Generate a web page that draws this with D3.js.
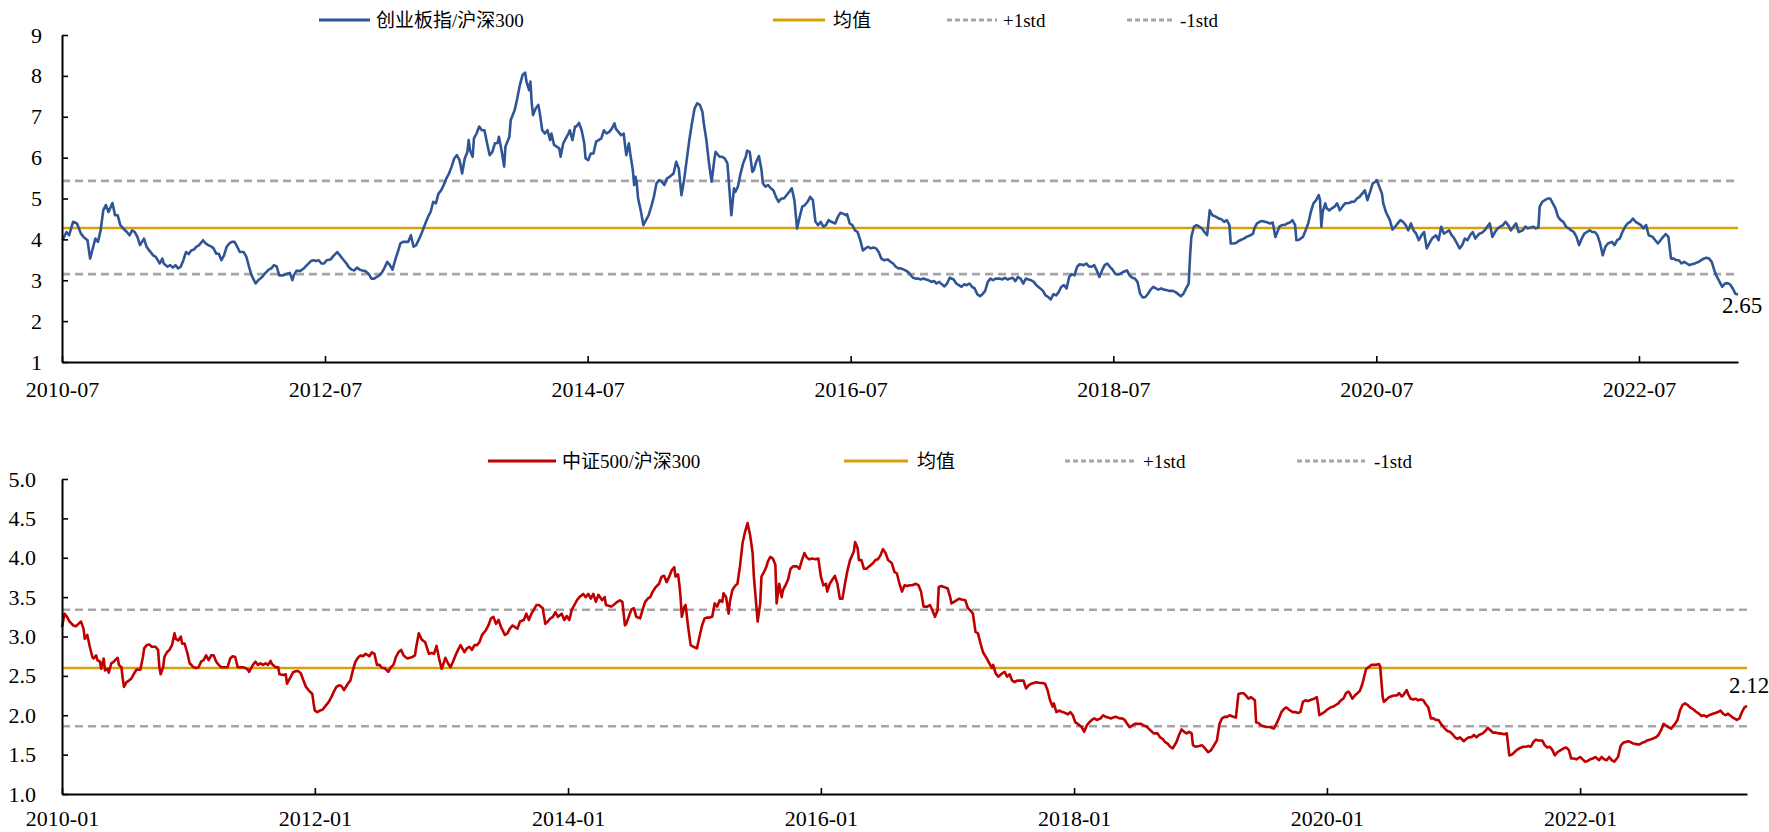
<!DOCTYPE html>
<html>
<head>
<meta charset="utf-8">
<script src="https://cdn.jsdelivr.net/npm/d3@7"></script>
<style>
  html, body { margin: 0; padding: 0; background: #fff; }
  svg text { font-family: "Liberation Serif", "Times New Roman", "Noto Sans CJK SC", serif; fill: #000; }
</style>
</head>
<body>
<svg id="chart" width="1769" height="832"></svg>
<script>
// 创业板指/沪深300, weekly-ish readings [decimal year, ratio]
const cybRatio = [
  [2010.50,3.98],[2010.53,4.18],[2010.55,4.10],[2010.58,4.43],[2010.61,4.39],[2010.64,4.14],[2010.66,4.06],[2010.69,3.98],
  [2010.71,3.53],[2010.74,3.90],[2010.75,4.02],[2010.77,3.94],[2010.79,4.22],[2010.81,4.71],[2010.83,4.84],[2010.85,4.67],
  [2010.88,4.89],[2010.90,4.59],[2010.92,4.59],[2010.94,4.35],[2010.97,4.24],[2010.99,4.18],[2011.01,4.10],[2011.03,4.22],
  [2011.05,4.18],[2011.07,4.06],[2011.09,3.86],[2011.12,4.02],[2011.14,3.82],[2011.16,3.73],[2011.19,3.61],[2011.21,3.57],
  [2011.24,3.41],[2011.26,3.53],[2011.27,3.41],[2011.30,3.33],[2011.32,3.37],[2011.34,3.31],[2011.36,3.37],[2011.38,3.29],
  [2011.40,3.33],[2011.42,3.49],[2011.44,3.69],[2011.46,3.64],[2011.48,3.73],[2011.50,3.75],[2011.52,3.82],[2011.54,3.86],
  [2011.57,3.98],[2011.59,3.90],[2011.61,3.86],[2011.63,3.83],[2011.65,3.78],[2011.67,3.65],[2011.69,3.65],[2011.71,3.49],
  [2011.73,3.61],[2011.75,3.82],[2011.77,3.90],[2011.79,3.94],[2011.81,3.94],[2011.83,3.82],[2011.85,3.69],[2011.88,3.69],
  [2011.90,3.57],[2011.92,3.33],[2011.94,3.12],[2011.97,2.92],[2011.99,3.00],[2012.02,3.08],[2012.04,3.16],[2012.07,3.26],
  [2012.09,3.29],[2012.11,3.37],[2012.13,3.34],[2012.15,3.12],[2012.18,3.12],[2012.21,3.16],[2012.23,3.18],[2012.25,3.00],
  [2012.26,3.12],[2012.28,3.23],[2012.31,3.23],[2012.34,3.30],[2012.36,3.37],[2012.39,3.47],[2012.41,3.49],[2012.43,3.47],
  [2012.45,3.49],[2012.47,3.41],[2012.49,3.41],[2012.51,3.49],[2012.54,3.51],[2012.56,3.59],[2012.59,3.69],[2012.62,3.57],
  [2012.64,3.49],[2012.66,3.41],[2012.68,3.31],[2012.70,3.26],[2012.72,3.24],[2012.74,3.31],[2012.76,3.26],[2012.78,3.24],
  [2012.80,3.23],[2012.83,3.15],[2012.85,3.04],[2012.87,3.04],[2012.89,3.08],[2012.91,3.12],[2012.93,3.19],[2012.95,3.31],
  [2012.97,3.45],[2012.99,3.37],[2013.01,3.26],[2013.03,3.49],[2013.05,3.69],[2013.07,3.90],[2013.09,3.94],[2013.13,3.94],
  [2013.15,4.10],[2013.17,3.82],[2013.19,3.86],[2013.22,4.06],[2013.24,4.22],[2013.26,4.39],[2013.28,4.55],[2013.30,4.67],
  [2013.32,4.92],[2013.34,4.88],[2013.36,5.12],[2013.38,5.20],[2013.40,5.33],[2013.42,5.49],[2013.44,5.61],[2013.46,5.78],
  [2013.48,5.98],[2013.50,6.06],[2013.52,5.94],[2013.54,5.61],[2013.56,5.98],[2013.58,6.14],[2013.59,6.43],[2013.60,6.18],
  [2013.62,6.02],[2013.63,6.47],[2013.65,6.59],[2013.67,6.76],[2013.69,6.67],[2013.71,6.67],[2013.73,6.35],[2013.75,6.06],
  [2013.77,6.14],[2013.79,6.35],[2013.81,6.36],[2013.82,6.51],[2013.84,6.18],[2013.86,5.78],[2013.87,6.27],[2013.90,6.51],
  [2013.91,6.92],[2013.94,7.16],[2013.96,7.45],[2013.98,7.78],[2014.00,8.02],[2014.02,8.08],[2014.03,7.86],[2014.05,7.65],
  [2014.06,7.86],[2014.07,7.33],[2014.08,7.04],[2014.10,7.20],[2014.12,7.29],[2014.13,7.12],[2014.15,6.67],[2014.17,6.59],
  [2014.19,6.67],[2014.21,6.43],[2014.22,6.59],[2014.24,6.31],[2014.26,6.27],[2014.28,6.22],[2014.29,6.02],[2014.31,6.35],
  [2014.33,6.47],[2014.35,6.59],[2014.36,6.67],[2014.38,6.43],[2014.40,6.76],[2014.41,6.76],[2014.43,6.85],[2014.45,6.67],
  [2014.47,6.35],[2014.48,5.98],[2014.50,5.94],[2014.52,6.10],[2014.54,6.10],[2014.56,6.39],[2014.58,6.43],[2014.60,6.47],
  [2014.62,6.67],[2014.64,6.59],[2014.66,6.63],[2014.68,6.71],[2014.70,6.84],[2014.71,6.71],[2014.73,6.63],[2014.75,6.55],
  [2014.77,6.59],[2014.79,6.06],[2014.81,6.35],[2014.82,6.10],[2014.84,5.69],[2014.85,5.33],[2014.86,5.53],[2014.87,5.37],
  [2014.88,5.00],[2014.90,4.71],[2014.92,4.35],[2014.94,4.47],[2014.96,4.59],[2014.98,4.80],[2015.00,5.04],[2015.02,5.37],
  [2015.04,5.45],[2015.06,5.41],[2015.08,5.33],[2015.10,5.49],[2015.12,5.53],[2015.15,5.61],[2015.17,5.90],[2015.19,5.73],
  [2015.21,5.08],[2015.23,5.45],[2015.25,5.94],[2015.27,6.43],[2015.29,6.84],[2015.31,7.20],[2015.33,7.33],[2015.35,7.29],
  [2015.37,7.12],[2015.38,6.84],[2015.40,6.43],[2015.42,5.86],[2015.44,5.41],[2015.46,5.94],[2015.47,6.14],[2015.50,6.02],
  [2015.52,6.02],[2015.54,5.98],[2015.56,5.86],[2015.57,5.45],[2015.59,4.59],[2015.61,5.25],[2015.62,5.16],[2015.64,5.29],
  [2015.66,5.61],[2015.68,5.86],[2015.70,6.02],[2015.71,6.17],[2015.73,6.14],[2015.75,5.65],[2015.76,5.69],[2015.78,5.90],
  [2015.80,6.04],[2015.82,5.69],[2015.83,5.37],[2015.85,5.29],[2015.87,5.33],[2015.89,5.25],[2015.91,5.20],[2015.93,5.04],
  [2015.95,4.92],[2015.97,5.00],[2015.99,5.00],[2016.01,5.08],[2016.03,5.16],[2016.05,5.25],[2016.07,4.96],[2016.09,4.27],
  [2016.11,4.55],[2016.13,4.80],[2016.15,4.84],[2016.17,4.92],[2016.19,5.04],[2016.21,4.96],[2016.23,4.43],[2016.25,4.35],
  [2016.27,4.43],[2016.29,4.31],[2016.31,4.35],[2016.33,4.47],[2016.35,4.43],[2016.38,4.39],[2016.40,4.55],[2016.42,4.65],
  [2016.44,4.63],[2016.46,4.59],[2016.47,4.62],[2016.49,4.39],[2016.51,4.35],[2016.53,4.22],[2016.55,4.18],[2016.57,3.98],
  [2016.59,3.73],[2016.61,3.78],[2016.63,3.82],[2016.65,3.78],[2016.67,3.80],[2016.69,3.78],[2016.71,3.69],[2016.73,3.53],
  [2016.75,3.49],[2016.78,3.51],[2016.80,3.45],[2016.82,3.41],[2016.84,3.33],[2016.86,3.29],[2016.88,3.29],[2016.90,3.26],
  [2016.92,3.23],[2016.94,3.18],[2016.97,3.06],[2016.99,3.04],[2017.01,3.04],[2017.03,3.02],[2017.05,3.04],[2017.07,3.02],
  [2017.09,3.00],[2017.11,2.96],[2017.13,2.98],[2017.15,2.92],[2017.17,2.96],[2017.19,2.90],[2017.21,2.85],[2017.23,2.92],
  [2017.25,3.06],[2017.28,3.02],[2017.30,2.92],[2017.32,2.88],[2017.34,2.84],[2017.36,2.90],[2017.38,2.88],[2017.40,2.92],
  [2017.42,2.84],[2017.44,2.80],[2017.46,2.66],[2017.48,2.61],[2017.50,2.66],[2017.52,2.74],[2017.54,2.96],[2017.56,3.04],
  [2017.58,3.00],[2017.60,3.04],[2017.63,3.04],[2017.65,3.02],[2017.67,3.06],[2017.69,3.02],[2017.71,3.04],[2017.73,3.06],
  [2017.75,2.98],[2017.77,3.08],[2017.79,3.04],[2017.81,2.92],[2017.83,3.04],[2017.85,3.02],[2017.87,3.00],[2017.89,2.96],
  [2017.91,2.88],[2017.94,2.80],[2017.96,2.74],[2017.98,2.63],[2018.00,2.59],[2018.02,2.53],[2018.04,2.66],[2018.06,2.63],
  [2018.08,2.71],[2018.10,2.84],[2018.12,2.88],[2018.14,2.80],[2018.16,3.08],[2018.18,3.15],[2018.20,3.12],[2018.22,3.33],
  [2018.24,3.39],[2018.27,3.37],[2018.29,3.41],[2018.31,3.34],[2018.33,3.33],[2018.35,3.37],[2018.37,3.24],[2018.39,3.08],
  [2018.41,3.24],[2018.43,3.37],[2018.45,3.41],[2018.47,3.33],[2018.49,3.26],[2018.51,3.16],[2018.53,3.14],[2018.55,3.16],
  [2018.57,3.20],[2018.60,3.24],[2018.62,3.12],[2018.64,3.06],[2018.66,3.04],[2018.68,2.96],[2018.70,2.67],[2018.72,2.58],
  [2018.74,2.59],[2018.76,2.67],[2018.78,2.77],[2018.80,2.84],[2018.82,2.80],[2018.84,2.77],[2018.86,2.80],[2018.88,2.77],
  [2018.90,2.76],[2018.92,2.74],[2018.95,2.74],[2018.97,2.71],[2018.99,2.66],[2019.01,2.61],[2019.03,2.67],[2019.05,2.80],
  [2019.07,2.92],[2019.08,3.57],[2019.09,4.06],[2019.11,4.31],[2019.13,4.35],[2019.15,4.31],[2019.17,4.27],[2019.19,4.18],
  [2019.21,4.10],[2019.23,4.71],[2019.25,4.59],[2019.28,4.55],[2019.30,4.51],[2019.32,4.49],[2019.34,4.43],[2019.36,4.47],
  [2019.38,4.35],[2019.39,3.90],[2019.41,3.90],[2019.43,3.91],[2019.45,3.96],[2019.47,3.99],[2019.49,4.02],[2019.51,4.06],
  [2019.54,4.10],[2019.56,4.14],[2019.57,4.27],[2019.59,4.39],[2019.61,4.43],[2019.63,4.45],[2019.65,4.43],[2019.67,4.41],
  [2019.69,4.39],[2019.71,4.41],[2019.73,4.06],[2019.75,4.22],[2019.76,4.31],[2019.78,4.35],[2019.80,4.35],[2019.82,4.39],
  [2019.84,4.41],[2019.86,4.47],[2019.88,4.35],[2019.89,3.98],[2019.91,3.99],[2019.94,4.06],[2019.96,4.22],[2019.98,4.39],
  [2020.00,4.67],[2020.02,4.88],[2020.04,4.96],[2020.06,5.08],[2020.07,4.96],[2020.08,4.31],[2020.09,4.67],[2020.11,4.88],
  [2020.12,4.76],[2020.14,4.71],[2020.16,4.76],[2020.18,4.80],[2020.20,4.88],[2020.22,4.71],[2020.24,4.80],[2020.26,4.88],
  [2020.29,4.89],[2020.31,4.92],[2020.33,4.92],[2020.35,5.00],[2020.37,5.04],[2020.39,5.12],[2020.41,5.20],[2020.43,4.96],
  [2020.45,5.16],[2020.47,5.37],[2020.49,5.41],[2020.50,5.45],[2020.52,5.29],[2020.54,5.12],[2020.55,4.88],[2020.57,4.67],
  [2020.60,4.47],[2020.62,4.24],[2020.64,4.31],[2020.66,4.39],[2020.68,4.47],[2020.70,4.43],[2020.72,4.35],[2020.74,4.22],
  [2020.76,4.39],[2020.78,4.22],[2020.80,4.14],[2020.82,3.98],[2020.84,4.10],[2020.86,4.18],[2020.88,3.78],[2020.90,3.90],
  [2020.92,4.02],[2020.95,4.10],[2020.97,3.98],[2020.99,4.31],[2021.01,4.14],[2021.03,4.18],[2021.05,4.22],[2021.07,4.10],
  [2021.09,4.02],[2021.11,3.90],[2021.13,3.78],[2021.15,3.86],[2021.17,4.02],[2021.19,3.98],[2021.21,4.10],[2021.23,4.18],
  [2021.25,4.02],[2021.28,4.14],[2021.30,4.16],[2021.32,4.22],[2021.34,4.31],[2021.36,4.39],[2021.38,4.06],[2021.40,4.18],
  [2021.42,4.27],[2021.44,4.31],[2021.46,4.35],[2021.48,4.43],[2021.50,4.35],[2021.52,4.22],[2021.54,4.31],[2021.56,4.39],
  [2021.58,4.18],[2021.61,4.22],[2021.63,4.31],[2021.65,4.27],[2021.67,4.29],[2021.69,4.31],[2021.71,4.27],[2021.73,4.29],
  [2021.74,4.80],[2021.76,4.92],[2021.78,4.96],[2021.80,5.00],[2021.82,5.00],[2021.84,4.88],[2021.86,4.76],[2021.88,4.55],
  [2021.90,4.47],[2021.92,4.43],[2021.94,4.31],[2021.96,4.27],[2021.98,4.22],[2022.00,4.18],[2022.02,4.06],[2022.04,3.86],
  [2022.06,4.02],[2022.08,4.14],[2022.10,4.18],[2022.12,4.22],[2022.14,4.18],[2022.16,4.18],[2022.18,4.10],[2022.20,3.90],
  [2022.22,3.61],[2022.24,3.82],[2022.26,3.90],[2022.29,3.94],[2022.31,3.86],[2022.33,3.98],[2022.35,4.02],[2022.37,4.18],
  [2022.39,4.31],[2022.41,4.39],[2022.43,4.43],[2022.45,4.51],[2022.47,4.43],[2022.49,4.39],[2022.51,4.35],[2022.53,4.27],
  [2022.55,4.35],[2022.57,4.10],[2022.60,4.06],[2022.62,3.98],[2022.64,3.90],[2022.66,3.98],[2022.68,4.06],[2022.70,4.13],
  [2022.72,4.06],[2022.74,3.53],[2022.76,3.53],[2022.78,3.49],[2022.80,3.49],[2022.82,3.41],[2022.84,3.45],[2022.86,3.41],
  [2022.88,3.37],[2022.90,3.39],[2022.92,3.41],[2022.95,3.45],[2022.97,3.49],[2022.99,3.53],[2023.01,3.55],[2023.03,3.53],
  [2023.05,3.45],[2023.07,3.24],[2023.09,3.08],[2023.11,2.96],[2023.13,2.84],[2023.15,2.92],[2023.17,2.93],[2023.19,2.90],
  [2023.21,2.80],[2023.23,2.67],[2023.25,2.65]
];

// 中证500/沪深300, readings [decimal year, ratio]
const zz500Ratio = [
  [2010.00,3.12],[2010.02,3.29],[2010.04,3.25],[2010.06,3.19],[2010.09,3.14],[2010.11,3.13],[2010.13,3.16],[2010.15,3.19],
  [2010.17,3.10],[2010.18,2.97],[2010.20,3.02],[2010.22,2.87],[2010.24,2.74],[2010.25,2.72],[2010.27,2.76],[2010.28,2.70],
  [2010.30,2.68],[2010.31,2.59],[2010.33,2.72],[2010.34,2.57],[2010.36,2.59],[2010.37,2.54],[2010.39,2.66],[2010.41,2.68],
  [2010.42,2.70],[2010.44,2.73],[2010.45,2.64],[2010.47,2.61],[2010.48,2.47],[2010.49,2.36],[2010.51,2.42],[2010.53,2.44],
  [2010.55,2.47],[2010.57,2.53],[2010.59,2.58],[2010.62,2.58],[2010.64,2.74],[2010.65,2.85],[2010.67,2.89],[2010.69,2.90],
  [2010.71,2.87],[2010.74,2.87],[2010.76,2.83],[2010.77,2.61],[2010.78,2.52],[2010.80,2.61],[2010.81,2.74],[2010.83,2.80],
  [2010.85,2.83],[2010.87,2.89],[2010.89,3.04],[2010.90,2.97],[2010.92,2.95],[2010.94,3.00],[2010.95,2.91],[2010.97,2.91],
  [2010.99,2.80],[2011.01,2.66],[2011.04,2.61],[2011.06,2.60],[2011.08,2.61],[2011.10,2.68],[2011.12,2.70],[2011.14,2.76],
  [2011.16,2.70],[2011.18,2.76],[2011.20,2.76],[2011.22,2.68],[2011.24,2.64],[2011.26,2.61],[2011.28,2.61],[2011.31,2.61],
  [2011.33,2.72],[2011.35,2.75],[2011.37,2.74],[2011.39,2.61],[2011.41,2.61],[2011.43,2.61],[2011.45,2.60],[2011.47,2.58],
  [2011.48,2.55],[2011.51,2.64],[2011.53,2.68],[2011.55,2.64],[2011.57,2.66],[2011.59,2.64],[2011.61,2.66],[2011.63,2.64],
  [2011.65,2.69],[2011.66,2.65],[2011.69,2.61],[2011.71,2.61],[2011.72,2.52],[2011.75,2.51],[2011.77,2.52],[2011.78,2.40],
  [2011.81,2.49],[2011.83,2.55],[2011.85,2.56],[2011.87,2.56],[2011.89,2.53],[2011.91,2.44],[2011.93,2.36],[2011.95,2.32],
  [2011.98,2.27],[2011.99,2.15],[2012.00,2.06],[2012.02,2.04],[2012.04,2.06],[2012.06,2.07],[2012.08,2.11],[2012.11,2.17],
  [2012.13,2.23],[2012.15,2.30],[2012.17,2.36],[2012.19,2.38],[2012.21,2.37],[2012.23,2.32],[2012.26,2.40],[2012.28,2.44],
  [2012.30,2.57],[2012.32,2.68],[2012.34,2.73],[2012.36,2.76],[2012.38,2.75],[2012.40,2.78],[2012.43,2.75],[2012.45,2.80],
  [2012.47,2.78],[2012.49,2.64],[2012.51,2.64],[2012.53,2.60],[2012.55,2.60],[2012.58,2.55],[2012.60,2.61],[2012.62,2.64],
  [2012.64,2.74],[2012.66,2.80],[2012.68,2.83],[2012.70,2.76],[2012.73,2.72],[2012.75,2.73],[2012.77,2.74],[2012.79,2.76],
  [2012.80,2.87],[2012.82,3.04],[2012.84,2.97],[2012.85,2.95],[2012.87,2.93],[2012.90,2.78],[2012.92,2.79],[2012.94,2.78],
  [2012.96,2.88],[2012.98,2.72],[2013.00,2.59],[2013.02,2.68],[2013.03,2.73],[2013.05,2.66],[2013.07,2.61],[2013.09,2.68],
  [2013.11,2.76],[2013.13,2.83],[2013.15,2.89],[2013.18,2.80],[2013.20,2.85],[2013.22,2.87],[2013.24,2.83],[2013.26,2.89],
  [2013.28,2.89],[2013.30,2.93],[2013.32,3.02],[2013.35,3.08],[2013.37,3.14],[2013.39,3.23],[2013.41,3.25],[2013.43,3.16],
  [2013.45,3.21],[2013.47,3.12],[2013.50,3.02],[2013.52,3.04],[2013.54,3.10],[2013.56,3.14],[2013.58,3.12],[2013.60,3.10],
  [2013.62,3.19],[2013.65,3.21],[2013.67,3.29],[2013.69,3.21],[2013.71,3.29],[2013.73,3.34],[2013.75,3.40],[2013.77,3.40],
  [2013.80,3.36],[2013.82,3.16],[2013.84,3.19],[2013.86,3.23],[2013.88,3.25],[2013.90,3.31],[2013.92,3.25],[2013.95,3.29],
  [2013.97,3.21],[2013.99,3.26],[2014.01,3.21],[2014.03,3.34],[2014.05,3.40],[2014.07,3.46],[2014.09,3.50],[2014.12,3.54],
  [2014.14,3.50],[2014.16,3.54],[2014.18,3.48],[2014.20,3.54],[2014.22,3.44],[2014.24,3.53],[2014.27,3.46],[2014.29,3.50],
  [2014.30,3.40],[2014.32,3.39],[2014.34,3.38],[2014.36,3.40],[2014.39,3.44],[2014.41,3.46],[2014.43,3.44],[2014.45,3.14],
  [2014.46,3.16],[2014.48,3.25],[2014.50,3.34],[2014.52,3.36],[2014.54,3.25],[2014.57,3.23],[2014.59,3.34],[2014.61,3.44],
  [2014.63,3.48],[2014.65,3.50],[2014.67,3.57],[2014.69,3.62],[2014.72,3.67],[2014.74,3.76],[2014.76,3.77],[2014.78,3.69],
  [2014.80,3.76],[2014.82,3.84],[2014.84,3.88],[2014.85,3.76],[2014.87,3.79],[2014.88,3.67],[2014.89,3.50],[2014.90,3.25],
  [2014.92,3.38],[2014.93,3.40],[2014.95,3.12],[2014.97,2.89],[2014.99,2.87],[2015.02,2.85],[2015.04,3.00],[2015.06,3.14],
  [2015.08,3.23],[2015.10,3.24],[2015.12,3.24],[2015.14,3.25],[2015.16,3.42],[2015.18,3.38],[2015.20,3.46],[2015.22,3.44],
  [2015.23,3.55],[2015.25,3.50],[2015.27,3.29],[2015.28,3.44],[2015.30,3.59],[2015.32,3.64],[2015.34,3.67],[2015.36,3.89],
  [2015.38,4.18],[2015.40,4.33],[2015.42,4.44],[2015.44,4.29],[2015.46,4.06],[2015.47,3.76],[2015.49,3.38],[2015.50,3.19],
  [2015.52,3.42],[2015.53,3.76],[2015.55,3.82],[2015.57,3.89],[2015.58,3.95],[2015.60,4.01],[2015.62,3.99],[2015.64,3.91],
  [2015.65,3.42],[2015.67,3.67],[2015.69,3.50],[2015.70,3.59],[2015.72,3.65],[2015.74,3.72],[2015.76,3.86],[2015.78,3.89],
  [2015.81,3.89],[2015.83,3.86],[2015.85,3.97],[2015.87,4.06],[2015.89,4.00],[2015.91,3.98],[2015.93,3.99],[2015.96,3.98],
  [2015.98,3.99],[2016.00,3.76],[2016.02,3.65],[2016.04,3.67],[2016.05,3.57],[2016.07,3.67],[2016.09,3.72],[2016.11,3.77],
  [2016.13,3.67],[2016.15,3.48],[2016.17,3.48],[2016.19,3.67],[2016.21,3.84],[2016.23,3.97],[2016.26,4.08],[2016.27,4.20],
  [2016.29,4.12],[2016.30,3.97],[2016.32,3.97],[2016.34,3.86],[2016.36,3.86],[2016.38,3.89],[2016.41,3.93],[2016.43,3.97],
  [2016.45,3.98],[2016.47,4.03],[2016.49,4.11],[2016.51,4.06],[2016.53,3.97],[2016.56,3.93],[2016.58,3.82],[2016.60,3.80],
  [2016.62,3.67],[2016.64,3.57],[2016.66,3.65],[2016.68,3.64],[2016.70,3.65],[2016.72,3.65],[2016.75,3.67],[2016.77,3.65],
  [2016.79,3.57],[2016.81,3.38],[2016.84,3.38],[2016.86,3.40],[2016.88,3.33],[2016.90,3.25],[2016.92,3.33],[2016.93,3.63],
  [2016.95,3.64],[2016.97,3.63],[2017.00,3.61],[2017.02,3.50],[2017.03,3.42],[2017.05,3.44],[2017.07,3.46],[2017.09,3.48],
  [2017.11,3.47],[2017.14,3.46],[2017.16,3.36],[2017.18,3.33],[2017.20,3.29],[2017.22,3.06],[2017.24,3.04],[2017.26,2.91],
  [2017.28,2.80],[2017.31,2.72],[2017.33,2.66],[2017.35,2.60],[2017.36,2.64],[2017.38,2.53],[2017.40,2.49],[2017.43,2.53],
  [2017.45,2.55],[2017.47,2.49],[2017.49,2.52],[2017.51,2.44],[2017.53,2.42],[2017.55,2.44],[2017.58,2.44],[2017.60,2.44],
  [2017.62,2.34],[2017.64,2.38],[2017.66,2.40],[2017.68,2.41],[2017.70,2.42],[2017.73,2.41],[2017.75,2.41],[2017.77,2.40],
  [2017.79,2.32],[2017.81,2.19],[2017.83,2.11],[2017.84,2.15],[2017.86,2.04],[2017.88,2.06],[2017.91,2.04],[2017.93,2.03],
  [2017.95,2.01],[2017.97,2.04],[2017.99,2.00],[2018.01,1.91],[2018.03,1.89],[2018.06,1.85],[2018.08,1.79],[2018.10,1.87],
  [2018.12,1.91],[2018.14,1.94],[2018.16,1.96],[2018.18,1.94],[2018.21,1.96],[2018.23,2.00],[2018.25,1.98],[2018.27,1.97],
  [2018.29,1.96],[2018.31,1.97],[2018.33,1.98],[2018.36,1.96],[2018.38,1.96],[2018.40,1.94],[2018.42,1.89],[2018.44,1.85],
  [2018.46,1.87],[2018.48,1.89],[2018.51,1.89],[2018.53,1.89],[2018.55,1.87],[2018.57,1.86],[2018.59,1.83],[2018.61,1.80],
  [2018.63,1.77],[2018.66,1.77],[2018.68,1.72],[2018.70,1.70],[2018.72,1.66],[2018.74,1.64],[2018.76,1.60],[2018.78,1.58],
  [2018.81,1.66],[2018.83,1.75],[2018.85,1.82],[2018.87,1.79],[2018.89,1.77],[2018.91,1.79],[2018.93,1.77],[2018.94,1.62],
  [2018.96,1.60],[2018.99,1.61],[2019.01,1.62],[2019.03,1.59],[2019.05,1.55],[2019.06,1.53],[2019.08,1.55],[2019.10,1.60],
  [2019.13,1.68],[2019.15,1.89],[2019.17,1.96],[2019.19,1.98],[2019.21,1.98],[2019.23,2.00],[2019.26,1.98],[2019.28,1.97],
  [2019.30,2.27],[2019.32,2.28],[2019.34,2.28],[2019.36,2.25],[2019.38,2.21],[2019.40,2.23],[2019.43,2.19],[2019.44,1.91],
  [2019.46,1.90],[2019.48,1.87],[2019.50,1.86],[2019.52,1.85],[2019.55,1.85],[2019.58,1.83],[2019.60,1.89],[2019.62,1.96],
  [2019.64,2.04],[2019.66,2.08],[2019.68,2.10],[2019.70,2.07],[2019.73,2.04],[2019.75,2.04],[2019.77,2.03],[2019.79,2.04],
  [2019.81,2.17],[2019.83,2.19],[2019.85,2.18],[2019.88,2.20],[2019.90,2.21],[2019.92,2.23],[2019.93,2.13],[2019.94,2.00],
  [2019.96,2.02],[2019.98,2.04],[2020.00,2.07],[2020.03,2.10],[2020.05,2.11],[2020.07,2.13],[2020.09,2.15],[2020.11,2.19],
  [2020.13,2.21],[2020.15,2.28],[2020.17,2.30],[2020.18,2.28],[2020.20,2.21],[2020.22,2.25],[2020.24,2.28],[2020.26,2.31],
  [2020.28,2.40],[2020.30,2.53],[2020.31,2.59],[2020.33,2.61],[2020.35,2.64],[2020.37,2.64],[2020.39,2.64],[2020.41,2.65],
  [2020.42,2.62],[2020.44,2.23],[2020.45,2.17],[2020.47,2.20],[2020.49,2.23],[2020.51,2.24],[2020.53,2.25],[2020.55,2.25],
  [2020.57,2.28],[2020.59,2.24],[2020.60,2.25],[2020.63,2.32],[2020.64,2.27],[2020.66,2.21],[2020.68,2.20],[2020.70,2.21],
  [2020.72,2.19],[2020.74,2.20],[2020.76,2.19],[2020.78,2.14],[2020.80,2.10],[2020.82,1.96],[2020.84,1.96],[2020.86,1.94],
  [2020.88,1.94],[2020.90,1.89],[2020.93,1.83],[2020.95,1.80],[2020.97,1.79],[2020.99,1.76],[2021.01,1.72],[2021.03,1.70],
  [2021.05,1.72],[2021.08,1.67],[2021.10,1.70],[2021.12,1.72],[2021.14,1.72],[2021.16,1.75],[2021.18,1.72],[2021.20,1.75],
  [2021.23,1.77],[2021.25,1.80],[2021.27,1.84],[2021.29,1.81],[2021.31,1.78],[2021.33,1.78],[2021.35,1.77],[2021.37,1.77],
  [2021.40,1.76],[2021.42,1.77],[2021.44,1.49],[2021.46,1.50],[2021.48,1.53],[2021.50,1.56],[2021.52,1.58],[2021.55,1.60],
  [2021.57,1.60],[2021.59,1.61],[2021.61,1.60],[2021.63,1.66],[2021.65,1.69],[2021.67,1.68],[2021.70,1.68],[2021.72,1.62],
  [2021.74,1.59],[2021.76,1.60],[2021.78,1.56],[2021.80,1.49],[2021.82,1.53],[2021.85,1.56],[2021.87,1.58],[2021.89,1.59],
  [2021.91,1.56],[2021.93,1.45],[2021.95,1.45],[2021.97,1.44],[2022.00,1.47],[2022.02,1.44],[2022.04,1.41],[2022.06,1.42],
  [2022.08,1.44],[2022.10,1.45],[2022.12,1.47],[2022.15,1.43],[2022.17,1.47],[2022.19,1.44],[2022.21,1.43],[2022.23,1.47],
  [2022.25,1.43],[2022.27,1.41],[2022.30,1.47],[2022.32,1.61],[2022.34,1.65],[2022.36,1.66],[2022.38,1.67],[2022.40,1.66],
  [2022.42,1.64],[2022.45,1.63],[2022.47,1.63],[2022.49,1.65],[2022.51,1.66],[2022.53,1.68],[2022.55,1.69],[2022.57,1.70],
  [2022.60,1.72],[2022.62,1.75],[2022.64,1.81],[2022.66,1.89],[2022.68,1.87],[2022.70,1.85],[2022.72,1.83],[2022.75,1.89],
  [2022.77,1.94],[2022.79,2.06],[2022.81,2.13],[2022.83,2.15],[2022.85,2.13],[2022.87,2.10],[2022.90,2.07],[2022.92,2.04],
  [2022.94,2.02],[2022.96,1.99],[2022.98,2.00],[2023.00,1.98],[2023.02,2.00],[2023.05,2.02],[2023.07,2.03],[2023.09,2.04],
  [2023.11,2.06],[2023.13,2.02],[2023.15,2.00],[2023.17,2.02],[2023.20,1.98],[2023.22,1.96],[2023.24,1.94],[2023.26,1.96],
  [2023.28,2.04],[2023.30,2.10],[2023.32,2.12]
];

// mean, +1std, -1std
const cybBands = [4.28, 5.43, 3.15];
const zz500Bands = [2.60, 3.34, 1.86];

const cybTicksY = [1, 2, 3, 4, 5, 6, 7, 8, 9];
const zz500TicksY = [1.0, 1.5, 2.0, 2.5, 3.0, 3.5, 4.0, 4.5, 5.0];
const cybTicksX = ['2010-07', '2012-07', '2014-07', '2016-07', '2018-07', '2020-07', '2022-07'];
const zz500TicksX = ['2010-01', '2012-01', '2014-01', '2016-01', '2018-01', '2020-01', '2022-01'];

const cybLegend = ['创业板指/沪深300', '均值', '+1std', '-1std'];
const zz500Legend = ['中证500/沪深300', '均值', '+1std', '-1std'];

const BLUE = '#2f5597', RED = '#c00000', GOLD = '#d8a00a', GREY = '#a6a6a6';

function yearToDate(y) {
  const yr = Math.floor(y);
  const a = Date.UTC(yr, 0, 1), b = Date.UTC(yr + 1, 0, 1);
  return new Date(a + (y - yr) * (b - a));
}
const parseMonth = d3.utcParse('%Y-%m');
const fmtMonth = d3.utcFormat('%Y-%m');

const svg = d3.select('#chart');

function panel(cfg) {
  const x = d3.scaleUtc()
    .domain([parseMonth(cfg.ticksX[0]), yearToDate(cfg.data[cfg.data.length - 1][0])])
    .range([cfg.left, cfg.right]);
  const y = d3.scaleLinear().domain(cfg.domainY).range([cfg.bottom, cfg.top]);
  const g = svg.append('g');

  // mean and ±1std bands
  const bandStyle = [
    { color: GOLD, dash: null },
    { color: GREY, dash: '8,5' },
    { color: GREY, dash: '8,5' }
  ];
  g.selectAll('line.band')
    .data(cfg.bands)
    .join('line')
    .attr('class', 'band')
    .attr('x1', x.range()[0]).attr('x2', x.range()[1])
    .attr('y1', d => y(d)).attr('y2', d => y(d))
    .attr('stroke', (d, i) => bandStyle[i].color)
    .attr('stroke-width', 2.6)
    .attr('stroke-dasharray', (d, i) => bandStyle[i].dash);

  const line = d3.line()
    .x(d => x(yearToDate(d[0])))
    .y(d => y(d[1]));
  g.append('path')
    .datum(cfg.data)
    .attr('d', line)
    .attr('fill', 'none')
    .attr('stroke', cfg.color)
    .attr('stroke-width', 2.6)
    .attr('stroke-linejoin', 'round');

  // axes
  const yAxis = d3.axisLeft(y)
    .tickValues(cfg.ticksY)
    .tickFormat(cfg.fmtY)
    .tickSizeInner(-6).tickSizeOuter(0)
    .tickPadding(cfg.padY);
  const xAxis = d3.axisBottom(x)
    .tickValues(cfg.ticksX.map(parseMonth))
    .tickFormat(fmtMonth)
    .tickSizeInner(-6).tickSizeOuter(0)
    .tickPadding(cfg.padX);

  const ya = g.append('g').attr('transform', `translate(${cfg.left},0)`).call(yAxis);
  const xa = g.append('g').attr('transform', `translate(0,${cfg.bottom})`).call(xAxis);
  [ya, xa].forEach(a => {
    a.select('.domain').attr('stroke', '#000').attr('stroke-width', 2);
    a.selectAll('.tick line').attr('stroke', '#000').attr('stroke-width', 1.6);
    a.selectAll('.tick text').attr('font-size', 22).attr('fill', '#000')
      .attr('font-family', '"Liberation Serif", "Times New Roman", serif');
  });

  // last value label
  const last = cfg.data[cfg.data.length - 1];
  g.append('text')
    .attr('x', x(yearToDate(last[0])) + cfg.labelDx)
    .attr('y', y(last[1]) + cfg.labelDy)
    .attr('font-size', 23)
    .text(last[1].toFixed(2));

  // legend
  const leg = g.append('g');
  cfg.legend.forEach((name, i) => {
    const lx = cfg.legendX[i];
    const style = i === 0 ? { color: cfg.color, dash: null } : bandStyle[i - 1];
    leg.append('line')
      .attr('x1', lx[0]).attr('x2', lx[1])
      .attr('y1', cfg.legendY).attr('y2', cfg.legendY)
      .attr('stroke', style.color)
      .attr('stroke-width', 3)
      .attr('stroke-dasharray', style.dash ? '5,3' : null);
    leg.append('text')
      .attr('x', lx[2])
      .attr('y', cfg.legendY)
      .attr('dy', '0.35em')
      .attr('font-size', 19)
      .text(name);
  });
}

panel({
  data: cybRatio, bands: cybBands, color: BLUE,
  left: 62, right: 1738, top: 35, bottom: 362,
  domainY: [1, 9], ticksY: cybTicksY, fmtY: d3.format('d'), padY: 20, padX: 19,
  ticksX: cybTicksX,
  labelDx: -16, labelDy: 18,
  legend: cybLegend, legendY: 20,
  legendX: [[319, 370, 376], [773, 825, 833], [947, 997, 1003], [1127, 1174, 1180]]
});

panel({
  data: zz500Ratio, bands: zz500Bands, color: RED,
  left: 62, right: 1747, top: 479, bottom: 794,
  domainY: [1, 5], ticksY: zz500TicksY, fmtY: d3.format('.1f'), padY: 26, padX: 16,
  ticksX: zz500TicksX,
  labelDx: -18, labelDy: -13,
  legend: zz500Legend, legendY: 461,
  legendX: [[488, 556, 562], [844, 908, 917], [1065, 1137, 1143], [1297, 1365, 1374]]
});
</script>
</body>
</html>
